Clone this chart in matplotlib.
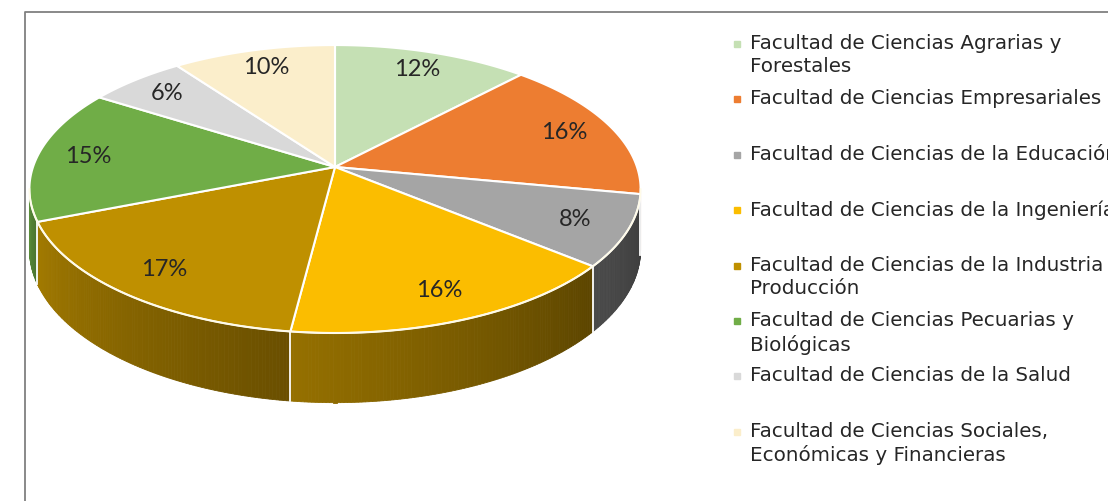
import numpy as np
import matplotlib.pyplot as plt
from matplotlib.patches import Polygon
from matplotlib.colors import to_rgb

# datos
facultades = [
    "Facultad de Ciencias Agrarias y\nForestales",
    "Facultad de Ciencias Empresariales",
    "Facultad de Ciencias de la Educación",
    "Facultad de Ciencias de la Ingeniería",
    "Facultad de Ciencias de la Industria y\nProducción",
    "Facultad de Ciencias Pecuarias y\nBiológicas",
    "Facultad de Ciencias de la Salud",
    "Facultad de Ciencias Sociales,\nEconómicas y Financieras",
]
porcentajes = [12, 16, 8, 16, 17, 15, 6, 10]

colores = ['#c5e0b4', '#ed7d31', '#a5a5a5', '#fbbd00',
           '#bf9000', '#70ad47', '#d9d9d9', '#fbeecb']
# sombreado del lateral (izquierda clara, derecha oscura)
lados = [('#9aae8a', '#80907a'), ('#b55d22', '#9a4d1b'), ('#4a4a4a', '#3d3d3d'),
         ('#957000', '#5c4500'), ('#a27a00', '#6a4f00'), ('#5a8c3a', '#4a7530'),
         ('#a8a8a8', '#999999'), ('#c8bea0', '#b5ab90')]

W, H = 1108, 501
cx, cy = 335, 167      # vertice de la torta
A, B = 302, 140.6      # semiejes
k = 0.153              # perspectiva
h = 59                 # grosor


def proj(theta, r=1.0, down=0.0):
    X = r * np.sin(theta)
    Z = -r * np.cos(theta)
    s = 1.0 / (1.0 - k * Z)
    return cx + A * X * s, cy + B * Z * s + down * s


fig = plt.figure(figsize=(W / 100, H / 100), dpi=100)
ax = fig.add_axes([0, 0, 1, 1])
ax.set_xlim(0, W)
ax.set_ylim(H, 0)
ax.axis('off')

# marco
ax.plot([25, 25, W + 5], [H + 5, 12, 12], color='#808080', lw=1.3)

frac = np.array(porcentajes) / sum(porcentajes)
bordes = np.concatenate([[0], np.cumsum(frac)]) * 2 * np.pi
t_lo = np.arccos(-k)
t_hi = 2 * np.pi - t_lo

# laterales
for i in range(len(porcentajes)):
    a = max(bordes[i], t_lo)
    b = min(bordes[i + 1], t_hi)
    if a >= b:
        continue
    c_izq = np.array(to_rgb(lados[i][0]))
    c_der = np.array(to_rgb(lados[i][1]))
    n = max(4, int((b - a) / 0.01))
    ts = np.linspace(a, b, n + 1)
    for j in range(n):
        f = j / max(n - 1, 1)   # 0 a la derecha, 1 a la izquierda
        col = c_der * (1 - f) + c_izq * f
        p1 = proj(ts[j]); p2 = proj(ts[j + 1])
        p3 = proj(ts[j + 1], down=h); p4 = proj(ts[j], down=h)
        ax.add_patch(Polygon([p1, p2, p3, p4], closed=True, facecolor=col,
                             edgecolor=col, lw=0.6, zorder=2))

for t in bordes[1:-1]:
    if t_lo < t < t_hi:
        x1, y1 = proj(t)
        x2, y2 = proj(t, down=h)
        ax.plot([x1, x2], [y1, y2], color='white', lw=1.3, zorder=3)

# cara superior
for i in range(len(porcentajes)):
    ts = np.linspace(bordes[i], bordes[i + 1], 120)
    xs, ys = proj(ts)
    pts = [(cx, cy)] + list(zip(xs, ys))
    ax.add_patch(Polygon(pts, closed=True, facecolor=colores[i],
                         edgecolor='white', lw=1.5, joinstyle='round', zorder=4))

ts = np.linspace(t_lo, t_hi, 300)
xs, ys = proj(ts)
ax.plot(xs, ys, color='#fffbe8', lw=1.2, zorder=5)

# etiquetas
for i, v in enumerate(porcentajes):
    mid = (bordes[i] + bordes[i + 1]) / 2
    x, y = proj(mid, r=0.83)
    ax.text(x, y, f"{v}%", ha='center', va='center', fontsize=17,
            family='Lato', color='#262626', zorder=6)

# leyenda
for i, nombre in enumerate(facultades):
    y = 42 + i * 55.4
    ax.plot([737], [y + 2], marker='s', ms=4.3, color=colores[i], ls='none')
    ax.text(750, y - 8, nombre, ha='left', va='top', fontsize=14.3,
            color='#262626', linespacing=1.29)

fig.savefig('out.png', dpi=100)
